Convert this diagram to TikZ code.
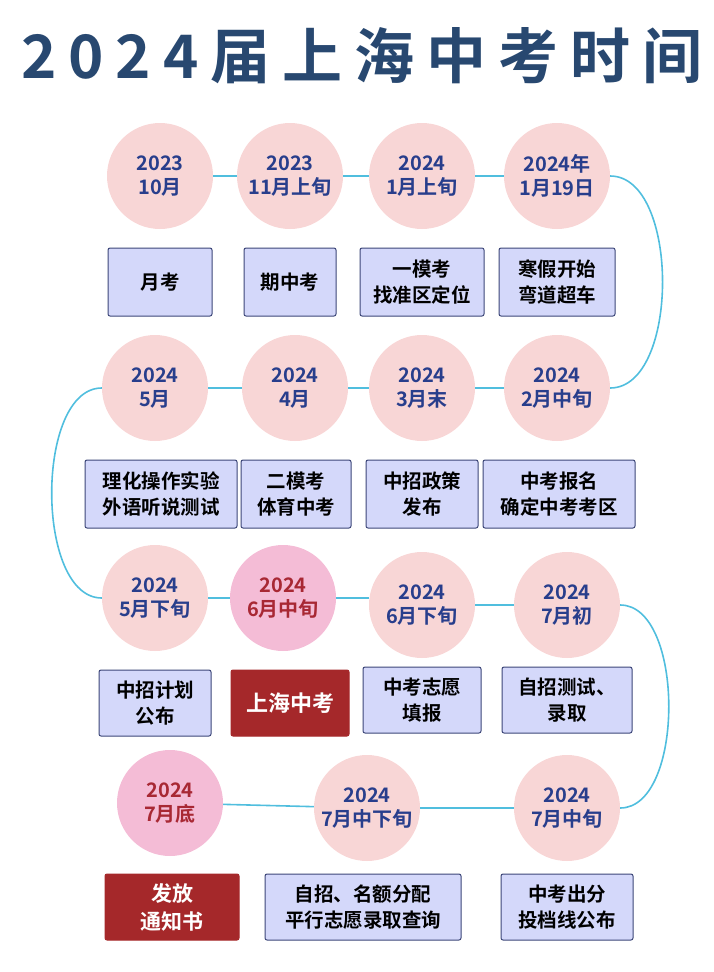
\documentclass[tikz,border=0pt]{standalone}
\usepackage{fontspec}
\newfontfamily\cjk{Noto Sans CJK SC}[BoldFont={* Bold}]
\newfontfamily\cjktitle{Noto Sans CJK SC Bold}[LetterSpace=20]
\definecolor{circf}{RGB}{248,214,214}
\definecolor{pinkf}{RGB}{244,188,214}
\definecolor{txtb}{RGB}{40,62,140}
\definecolor{txtr}{RGB}{168,40,52}
\definecolor{boxf}{RGB}{212,216,250}
\definecolor{boxd}{RGB}{60,70,120}
\definecolor{redf}{RGB}{165,40,42}
\definecolor{linec}{RGB}{80,190,222}
\definecolor{titlec}{RGB}{40,72,112}
\tikzset{
 circ/.style={circle,fill=circf,minimum size=106pt,inner sep=0pt,align=center,text=txtb,font=\cjk\bfseries\fontsize{20}{24}\selectfont},
 pcirc/.style={circ,fill=pinkf,text=txtr},
 box/.style={draw=boxd,line width=1pt,rounded corners=2pt,fill=boxf,minimum height=68pt,align=center,font=\cjk\bfseries\fontsize{19.5}{26}\selectfont},
 rbox/.style={box,fill=redf,draw=redf,text=white},
 conn/.style={linec,line width=1.6pt}
}
\begin{document}
\begin{tikzpicture}[x=1pt,y=-1pt]
\useasboundingbox (0,0) rectangle (713,972);
\node[text=titlec,font=\cjktitle\fontsize{60}{62}\selectfont] (title) at (362,56) {2024届上海中考时间};
% circles
\node[circ] (c1) at (160,176) {2023\\10月};
\node[circ] (c2) at (290,176) {2023\\11月上旬};
\node[circ] (c3) at (422,176) {2024\\1月上旬};
\node[circ] (c4) at (557,176) {2024年\\1月19日};
\node[circ] (c5) at (155,388) {2024\\5月};
\node[circ] (c6) at (295,388) {2024\\4月};
\node[circ] (c7) at (422,388) {2024\\3月末};
\node[circ] (c8) at (557,388) {2024\\2月中旬};
\node[circ] (c9) at (155,598) {2024\\5月下旬};
\node[pcirc] (c10) at (283,598) {2024\\6月中旬};
\node[circ] (c11) at (422,605) {2024\\6月下旬};
\node[circ] (c12) at (567,605) {2024\\7月初};
\node[pcirc] (c13) at (170,803) {2024\\7月底};
\node[circ] (c14) at (367,808) {2024\\7月中下旬};
\node[circ] (c15) at (567,808) {2024\\7月中旬};
% connectors
\draw[conn] (c1) -- (c2); \draw[conn] (c2) -- (c3); \draw[conn] (c3) -- (c4);
\draw[conn] (c4.east) .. controls (680,176) and (680,388) .. (c8.east);
\draw[conn] (c8) -- (c7); \draw[conn] (c7) -- (c6); \draw[conn] (c6) -- (c5);
\draw[conn] (c5.west) .. controls (35,388) and (35,598) .. (c9.west);
\draw[conn] (c9) -- (c10); \draw[conn] (c10.east) -- (c11.west |- c10.east);
\draw[conn] (c11) -- (c12);
\draw[conn] (c12.east) .. controls (685,605) and (685,808) .. (c15.east);
\draw[conn] (c15) -- (c14); \draw[conn] (c14) -- (c13);
% boxes
\node[box,minimum width=104pt] (b1) at (160,282) {月考};
\node[box,minimum width=92pt] (b2) at (290,282) {期中考};
\node[box,minimum width=124pt] (b3) at (422,282) {一模考\\找准区定位};
\node[box,minimum width=116pt] (b4) at (557,282) {寒假开始\\弯道超车};
\node[box,minimum width=152pt] (b5) at (161,494) {理化操作实验\\外语听说测试};
\node[box,minimum width=110pt] (b6) at (296,494) {二模考\\体育中考};
\node[box,minimum width=112pt] (b7) at (422,494) {中招政策\\发布};
\node[box,minimum width=152pt] (b8) at (559,494) {中考报名\\确定中考考区};
\node[box,minimum width=112pt,minimum height=66pt] (b9) at (155,703) {中招计划\\公布};
\node[rbox,minimum width=118pt,minimum height=66pt,font=\cjk\bfseries\fontsize{22}{26}\selectfont] (b10) at (290,703) {上海中考};
\node[box,minimum width=118pt,minimum height=66pt] (b11) at (422,700) {中考志愿\\填报};
\node[box,minimum width=130pt,minimum height=66pt] (b12) at (567,700) {自招测试、\\录取};
\node[rbox,minimum width=134pt,minimum height=66pt,font=\cjk\bfseries\fontsize{21}{28}\selectfont] (b13) at (172,907) {发放\\通知书};
\node[box,minimum width=196pt,minimum height=66pt] (b14) at (363,907) {自招、名额分配\\平行志愿录取查询};
\node[box,minimum width=132pt,minimum height=66pt] (b15) at (567,907) {中考出分\\投档线公布};
\end{tikzpicture}
\end{document}
